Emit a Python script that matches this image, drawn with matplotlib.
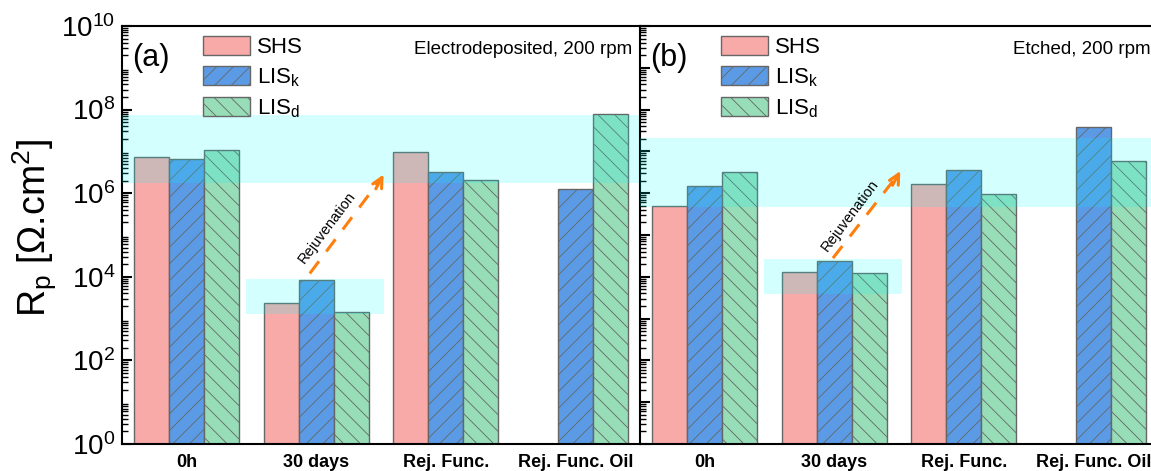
"""Polarization resistance of SHS / LIS coatings: electrodeposited vs etched."""

import numpy as np
import matplotlib
matplotlib.use('Agg')
import matplotlib.pyplot as plt
from matplotlib.patches import Patch, Rectangle
from matplotlib.ticker import LogLocator, NullFormatter


CATEGORIES = ['0h', '30 days', 'Rej. Func.', 'Rej. Func. Oil']
SERIES = ['SHS', 'LIS$_{\\mathrm{k}}$', 'LIS$_{\\mathrm{d}}$']

# panel (a): electrodeposited
ELEC_SHS = [7.4e6, 2.35e3, 9.7e6, np.nan]
ELEC_LISK = [6.6e6, 8.4e3, 3.2e6, 1.26e6]
ELEC_LISD = [1.08e7, 1.44e3, 2.1e6, 7.8e7]
ELEC_BAND = (1.75e6, 7.4e7)
ELEC_BOX = (1.29e3, 8.9e3)

# panel (b): etched
ETCH_SHS = [4.9e5, 1.3e4, 1.66e6, np.nan]
ETCH_LISK = [1.48e6, 2.4e4, 3.6e6, 3.8e7]
ETCH_LISD = [3.2e6, 1.23e4, 9.6e5, 5.9e6]
ETCH_BAND = (4.7e5, 2.1e7)
ETCH_BOX = (3.9e3, 2.7e4)

# rejuvenation arrows (x in group units, y in ohm.cm2)
ELEC_ARROW = ((1.45, 1.2e4), (2.02, 2.8e6))
ETCH_ARROW = ((1.49, 2.8e4), (2.01, 3.4e6))
ELEC_ARROW_TEXT = (1.58, 1.55e5)
ETCH_ARROW_TEXT = (1.62, 3.0e5)

COLORS = ['#F8AAA9', '#5B9BE6', '#96DDB8']
HATCHES = [None, '//', '\\\\']
EDGE = '#666666'
BAND_COLOR = 'cyan'
BAND_ALPHA = 0.17
ARROW_COLOR = '#FF7F0E'

plt.rcParams.update({
    'font.family': ['Liberation Sans', 'DejaVu Sans'],
    'mathtext.fontset': 'custom',
    'mathtext.rm': 'Liberation Sans',
    'mathtext.it': 'Liberation Sans:italic',
    'mathtext.bf': 'Liberation Sans:bold',
    'hatch.linewidth': 0.6,
    'hatch.color': '#555555',
    'axes.linewidth': 1.5,
})


def draw_panel(ax, values, band, box, arrow, arrow_text, tag, title, show_ylabels):
    width = 0.27
    centers = np.arange(len(CATEGORIES)) + 0.5
    for i, (vals, col, hatch) in enumerate(zip(values, COLORS, HATCHES)):
        vals = np.asarray(vals, dtype=float)
        ok = ~np.isnan(vals)
        ax.bar(centers[ok] + (i - 1) * width, vals[ok], width=width, bottom=1e-3,
               color=col, edgecolor=EDGE, linewidth=1.0, hatch=hatch, zorder=2)

    ax.axhspan(band[0], band[1], color=BAND_COLOR, alpha=BAND_ALPHA, lw=0, zorder=3)
    ax.add_patch(Rectangle((0.96, box[0]), 1.06, box[1] - box[0], facecolor=BAND_COLOR,
                           alpha=BAND_ALPHA, lw=0, zorder=3))

    # dashed shaft + solid open head
    (x0, y0), (x1, y1) = arrow
    ax.plot([x0, x1 - 0.02], [y0, y1 / 1.25], color=ARROW_COLOR, lw=2.2,
            dashes=(5, 4), zorder=4)
    ax.annotate('', xy=(x1, y1), xytext=(x1 - 0.06, y1 / 2.2),
                arrowprops=dict(arrowstyle='->', color=ARROW_COLOR, lw=2.2,
                                mutation_scale=18, shrinkA=0, shrinkB=0), zorder=4)
    ax.text(arrow_text[0], arrow_text[1], 'Rejuvenation', rotation=53, fontsize=10.5,
            ha='center', va='center', rotation_mode='anchor', zorder=5)

    ax.set_yscale('log')
    ax.set_ylim(1, 1e10)
    ax.set_xlim(0, 4)
    ax.yaxis.set_major_locator(LogLocator(base=10, numticks=20))
    ax.yaxis.set_minor_locator(LogLocator(base=10, subs=np.arange(2, 10), numticks=20))
    ax.yaxis.set_minor_formatter(NullFormatter())
    ax.tick_params(axis='y', which='major', direction='in', length=7, width=1.5,
                   labelsize=20, labelleft=show_ylabels, pad=5)
    ax.tick_params(axis='y', which='minor', direction='in', length=4, width=1.0)
    if show_ylabels:
        ax.set_yticks([1, 1e2, 1e4, 1e6, 1e8, 1e10])
        ax.set_yticklabels(['$10^{0}$', '$10^{2}$', '$10^{4}$', '$10^{6}$',
                            '$10^{8}$', '$10^{10}$'])
    ax.set_xticks(centers)
    ax.set_xticklabels(CATEGORIES, fontsize=13, fontweight='bold',
                       family=['Liberation Sans Narrow', 'Liberation Sans'])
    ax.tick_params(axis='x', length=0, pad=7)

    ax.text(0.02, 0.96, tag, transform=ax.transAxes, fontsize=22, va='top', ha='left')
    ax.text(0.985, 0.963, title, transform=ax.transAxes, fontsize=13.5, va='top', ha='right')

    handles = [Patch(facecolor=c, edgecolor=EDGE, hatch=h, linewidth=1.0)
               for c, h in zip(COLORS, HATCHES)]
    ax.legend(handles, SERIES, loc='upper left', bbox_to_anchor=(0.139, 0.998),
              frameon=False, fontsize=16, handlelength=2.1, handleheight=0.95,
              handletextpad=0.35, labelspacing=0.36, borderaxespad=0)


fig = plt.figure(figsize=(11.51, 4.71), dpi=100)
ax_a = fig.add_axes([122 / 1151, 27 / 471, 518 / 1151, 418 / 471])
ax_b = fig.add_axes([640 / 1151, 27 / 471, 518 / 1151, 418 / 471])

draw_panel(ax_a, [ELEC_SHS, ELEC_LISK, ELEC_LISD], ELEC_BAND, ELEC_BOX, ELEC_ARROW,
           ELEC_ARROW_TEXT, '(a)', 'Electrodeposited, 200 rpm', True)
draw_panel(ax_b, [ETCH_SHS, ETCH_LISK, ETCH_LISD], ETCH_BAND, ETCH_BOX, ETCH_ARROW,
           ETCH_ARROW_TEXT, '(b)', 'Etched, 200 rpm', False)
ax_a.spines['right'].set_visible(False)

fig.text(35 / 1151, 1 - 228 / 471, 'R$_{\\mathrm{p}}$ [Ω.cm$^{2}$]', rotation=90,
         fontsize=27, ha='center', va='center')

fig.savefig('out.png', dpi=100)
